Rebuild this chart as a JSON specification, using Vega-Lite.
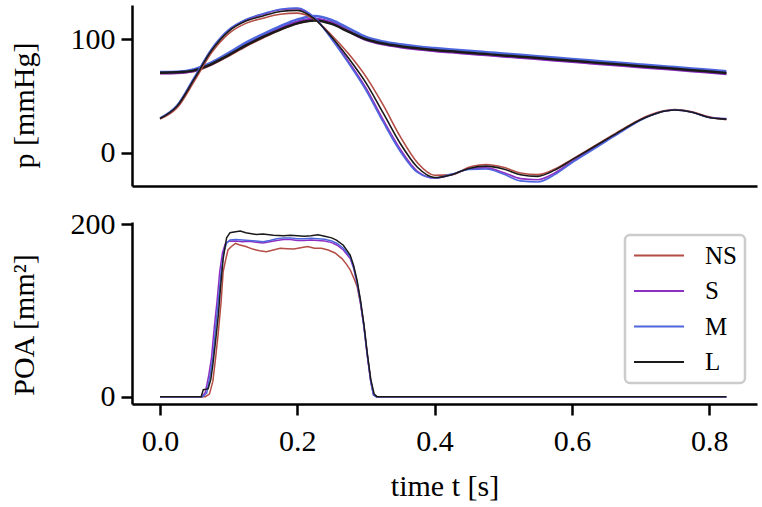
{
  "$schema": "https://vega.github.io/schema/vega-lite/v6.json",
  "background": "white",
  "autosize": {"type": "pad"},
  "padding": {"left": 8, "top": 5, "right": 5, "bottom": 5},
  "spacing": 36,
  "bounds": "flush",
  "datasets": {
    "pa": [
      {"t": 0, "NS": 70.2, "S": 70, "M": 71, "L": 70.5},
      {"t": 0.025, "NS": 70.5, "S": 70.3, "M": 71.3, "L": 70.8},
      {"t": 0.05, "NS": 72, "S": 72.2, "M": 73.5, "L": 72.5},
      {"t": 0.075, "NS": 77.5, "S": 78.2, "M": 79.5, "L": 78},
      {"t": 0.1, "NS": 85.5, "S": 86.8, "M": 88, "L": 86},
      {"t": 0.125, "NS": 94, "S": 95.5, "M": 97, "L": 94.5},
      {"t": 0.15, "NS": 101.5, "S": 103, "M": 104.5, "L": 102},
      {"t": 0.175, "NS": 108.5, "S": 110, "M": 111.5, "L": 108.5},
      {"t": 0.2, "NS": 114, "S": 115.5, "M": 117.5, "L": 114},
      {"t": 0.225, "NS": 117, "S": 118, "M": 120.5, "L": 116.5},
      {"t": 0.25, "NS": 115, "S": 114.5, "M": 117, "L": 113.5},
      {"t": 0.275, "NS": 108.5, "S": 107, "M": 109.5, "L": 106.5},
      {"t": 0.3, "NS": 101, "S": 99.5, "M": 102, "L": 100},
      {"t": 0.325, "NS": 96.2, "S": 95.5, "M": 98, "L": 96.2},
      {"t": 0.35, "NS": 93.5, "S": 93, "M": 95.5, "L": 93.8},
      {"t": 0.375, "NS": 91.6, "S": 91.1, "M": 93.6, "L": 92},
      {"t": 0.4, "NS": 90.1, "S": 89.6, "M": 92.2, "L": 90.5},
      {"t": 0.425, "NS": 88.9, "S": 88.4, "M": 91, "L": 89.3},
      {"t": 0.45, "NS": 87.7, "S": 87.2, "M": 89.8, "L": 88.1},
      {"t": 0.475, "NS": 86.5, "S": 86, "M": 88.6, "L": 86.9},
      {"t": 0.5, "NS": 85.3, "S": 84.8, "M": 87.4, "L": 85.7},
      {"t": 0.525, "NS": 84.2, "S": 83.7, "M": 86.2, "L": 84.6},
      {"t": 0.55, "NS": 83, "S": 82.5, "M": 85, "L": 83.4},
      {"t": 0.575, "NS": 81.8, "S": 81.3, "M": 83.8, "L": 82.2},
      {"t": 0.6, "NS": 80.6, "S": 80.1, "M": 82.6, "L": 81},
      {"t": 0.625, "NS": 79.4, "S": 78.9, "M": 81.4, "L": 79.8},
      {"t": 0.65, "NS": 78.2, "S": 77.7, "M": 80.2, "L": 78.6},
      {"t": 0.675, "NS": 77, "S": 76.5, "M": 79, "L": 77.4},
      {"t": 0.7, "NS": 75.8, "S": 75.3, "M": 77.8, "L": 76.2},
      {"t": 0.725, "NS": 74.7, "S": 74.2, "M": 76.6, "L": 75.1},
      {"t": 0.75, "NS": 73.5, "S": 73, "M": 75.4, "L": 73.9},
      {"t": 0.775, "NS": 72.3, "S": 71.8, "M": 74.2, "L": 72.7},
      {"t": 0.8, "NS": 71.1, "S": 70.6, "M": 73, "L": 71.5},
      {"t": 0.825, "NS": 70, "S": 69.4, "M": 71.8, "L": 70.3}
    ],
    "pv": [
      {"t": 0, "NS": 29.5, "S": 30.2, "M": 30.5, "L": 30},
      {"t": 0.025, "NS": 39.5, "S": 41.5, "M": 42, "L": 41},
      {"t": 0.05, "NS": 63, "S": 66, "M": 66.5, "L": 65},
      {"t": 0.075, "NS": 88, "S": 91, "M": 91.5, "L": 90},
      {"t": 0.1, "NS": 105, "S": 108, "M": 108.5, "L": 107},
      {"t": 0.125, "NS": 114, "S": 117, "M": 117.5, "L": 116},
      {"t": 0.15, "NS": 118.5, "S": 122, "M": 122.5, "L": 120.5},
      {"t": 0.175, "NS": 122, "S": 126, "M": 126.5, "L": 124.5},
      {"t": 0.2, "NS": 123, "S": 127, "M": 127.5, "L": 125.5},
      {"t": 0.225, "NS": 117.5, "S": 119, "M": 119, "L": 118},
      {"t": 0.25, "NS": 103.5, "S": 101, "M": 100, "L": 102},
      {"t": 0.275, "NS": 87, "S": 80, "M": 78.5, "L": 83},
      {"t": 0.3, "NS": 67, "S": 57, "M": 55, "L": 61.5},
      {"t": 0.325, "NS": 42, "S": 29, "M": 27, "L": 35},
      {"t": 0.35, "NS": 14, "S": 3, "M": 1, "L": 8},
      {"t": 0.375, "NS": -9, "S": -16.5, "M": -17.5, "L": -13},
      {"t": 0.4, "NS": -20, "S": -22.5, "M": -22.5, "L": -22},
      {"t": 0.425, "NS": -19.5, "S": -19.5, "M": -19, "L": -19.5},
      {"t": 0.45, "NS": -13, "S": -14.5, "M": -15, "L": -14},
      {"t": 0.475, "NS": -10.5, "S": -13.5, "M": -14.5, "L": -12},
      {"t": 0.5, "NS": -13, "S": -17.5, "M": -19, "L": -14.5},
      {"t": 0.525, "NS": -18, "S": -23, "M": -25, "L": -19.5},
      {"t": 0.55, "NS": -19.5, "S": -24, "M": -26, "L": -21},
      {"t": 0.575, "NS": -14.5, "S": -18, "M": -19.5, "L": -15.5},
      {"t": 0.6, "NS": -6, "S": -8, "M": -9, "L": -6.5},
      {"t": 0.625, "NS": 3, "S": 1.5, "M": 0.5, "L": 2.5},
      {"t": 0.65, "NS": 12, "S": 11, "M": 10, "L": 11.5},
      {"t": 0.675, "NS": 21, "S": 20, "M": 19.5, "L": 20.5},
      {"t": 0.7, "NS": 29.5, "S": 29, "M": 28.5, "L": 29},
      {"t": 0.725, "NS": 35.5, "S": 35, "M": 35, "L": 35},
      {"t": 0.75, "NS": 38, "S": 37.5, "M": 37.5, "L": 37.5},
      {"t": 0.775, "NS": 36, "S": 35.5, "M": 35.5, "L": 35.5},
      {"t": 0.8, "NS": 31.5, "S": 31, "M": 31, "L": 31},
      {"t": 0.825, "NS": 29, "S": 29.8, "M": 30, "L": 29.5}
    ],
    "poa": [
      {"g": "NS", "t": 0, "v": 0}, {"g": "NS", "t": 0.066, "v": 0}, {"g": "NS", "t": 0.072, "v": 3}, {"g": "NS", "t": 0.077, "v": 18},
      {"g": "NS", "t": 0.081, "v": 45}, {"g": "NS", "t": 0.085, "v": 75}, {"g": "NS", "t": 0.089, "v": 110}, {"g": "NS", "t": 0.092, "v": 145},
      {"g": "NS", "t": 0.096, "v": 160}, {"g": "NS", "t": 0.099, "v": 170}, {"g": "NS", "t": 0.104, "v": 174}, {"g": "NS", "t": 0.11, "v": 177.6},
      {"g": "NS", "t": 0.115, "v": 176}, {"g": "NS", "t": 0.125, "v": 174}, {"g": "NS", "t": 0.135, "v": 171}, {"g": "NS", "t": 0.145, "v": 169},
      {"g": "NS", "t": 0.155, "v": 168}, {"g": "NS", "t": 0.165, "v": 170}, {"g": "NS", "t": 0.175, "v": 172}, {"g": "NS", "t": 0.185, "v": 171.5},
      {"g": "NS", "t": 0.195, "v": 171}, {"g": "NS", "t": 0.205, "v": 172.5}, {"g": "NS", "t": 0.215, "v": 174}, {"g": "NS", "t": 0.225, "v": 172},
      {"g": "NS", "t": 0.235, "v": 172}, {"g": "NS", "t": 0.245, "v": 170}, {"g": "NS", "t": 0.255, "v": 166.5}, {"g": "NS", "t": 0.265, "v": 160},
      {"g": "NS", "t": 0.272, "v": 153}, {"g": "NS", "t": 0.277, "v": 147}, {"g": "NS", "t": 0.282, "v": 138}, {"g": "NS", "t": 0.287, "v": 128},
      {"g": "NS", "t": 0.292, "v": 108}, {"g": "NS", "t": 0.297, "v": 82}, {"g": "NS", "t": 0.302, "v": 48}, {"g": "NS", "t": 0.307, "v": 18},
      {"g": "NS", "t": 0.311, "v": 3}, {"g": "NS", "t": 0.315, "v": 0}, {"g": "NS", "t": 0.825, "v": 0},

      {"g": "S", "t": 0, "v": 0}, {"g": "S", "t": 0.061, "v": 0}, {"g": "S", "t": 0.066, "v": 5}, {"g": "S", "t": 0.071, "v": 25},
      {"g": "S", "t": 0.075, "v": 45}, {"g": "S", "t": 0.079, "v": 80}, {"g": "S", "t": 0.083, "v": 110}, {"g": "S", "t": 0.087, "v": 145},
      {"g": "S", "t": 0.091, "v": 167}, {"g": "S", "t": 0.095, "v": 177}, {"g": "S", "t": 0.1, "v": 180}, {"g": "S", "t": 0.11, "v": 180.5},
      {"g": "S", "t": 0.12, "v": 179.5}, {"g": "S", "t": 0.13, "v": 180}, {"g": "S", "t": 0.14, "v": 179}, {"g": "S", "t": 0.15, "v": 178},
      {"g": "S", "t": 0.16, "v": 179.5}, {"g": "S", "t": 0.17, "v": 181}, {"g": "S", "t": 0.18, "v": 182}, {"g": "S", "t": 0.19, "v": 182},
      {"g": "S", "t": 0.2, "v": 181}, {"g": "S", "t": 0.21, "v": 181}, {"g": "S", "t": 0.22, "v": 181.5}, {"g": "S", "t": 0.23, "v": 181},
      {"g": "S", "t": 0.24, "v": 180.5}, {"g": "S", "t": 0.25, "v": 178.5}, {"g": "S", "t": 0.258, "v": 175.5}, {"g": "S", "t": 0.267, "v": 170},
      {"g": "S", "t": 0.277, "v": 160}, {"g": "S", "t": 0.282, "v": 149}, {"g": "S", "t": 0.287, "v": 132}, {"g": "S", "t": 0.292, "v": 109},
      {"g": "S", "t": 0.297, "v": 81}, {"g": "S", "t": 0.302, "v": 47}, {"g": "S", "t": 0.307, "v": 17}, {"g": "S", "t": 0.311, "v": 2},
      {"g": "S", "t": 0.315, "v": 0}, {"g": "S", "t": 0.825, "v": 0},

      {"g": "M", "t": 0, "v": 0}, {"g": "M", "t": 0.062, "v": 0}, {"g": "M", "t": 0.068, "v": 4}, {"g": "M", "t": 0.073, "v": 25},
      {"g": "M", "t": 0.077, "v": 45}, {"g": "M", "t": 0.081, "v": 80}, {"g": "M", "t": 0.085, "v": 112}, {"g": "M", "t": 0.089, "v": 145},
      {"g": "M", "t": 0.093, "v": 168}, {"g": "M", "t": 0.097, "v": 178}, {"g": "M", "t": 0.102, "v": 181.5}, {"g": "M", "t": 0.11, "v": 182},
      {"g": "M", "t": 0.12, "v": 181.5}, {"g": "M", "t": 0.13, "v": 181}, {"g": "M", "t": 0.14, "v": 180.5}, {"g": "M", "t": 0.15, "v": 179.5},
      {"g": "M", "t": 0.16, "v": 181}, {"g": "M", "t": 0.17, "v": 183}, {"g": "M", "t": 0.18, "v": 184}, {"g": "M", "t": 0.19, "v": 184},
      {"g": "M", "t": 0.2, "v": 183}, {"g": "M", "t": 0.21, "v": 183}, {"g": "M", "t": 0.22, "v": 183.5}, {"g": "M", "t": 0.23, "v": 183},
      {"g": "M", "t": 0.24, "v": 182.5}, {"g": "M", "t": 0.25, "v": 180.5}, {"g": "M", "t": 0.258, "v": 177.5}, {"g": "M", "t": 0.267, "v": 172},
      {"g": "M", "t": 0.277, "v": 162}, {"g": "M", "t": 0.282, "v": 150}, {"g": "M", "t": 0.287, "v": 133}, {"g": "M", "t": 0.292, "v": 110},
      {"g": "M", "t": 0.297, "v": 82}, {"g": "M", "t": 0.302, "v": 48}, {"g": "M", "t": 0.307, "v": 18}, {"g": "M", "t": 0.311, "v": 2},
      {"g": "M", "t": 0.315, "v": 0}, {"g": "M", "t": 0.825, "v": 0},

      {"g": "L", "t": 0, "v": 0}, {"g": "L", "t": 0.06, "v": 0}, {"g": "L", "t": 0.063, "v": 8}, {"g": "L", "t": 0.07, "v": 9},
      {"g": "L", "t": 0.074, "v": 20}, {"g": "L", "t": 0.077, "v": 37}, {"g": "L", "t": 0.081, "v": 65}, {"g": "L", "t": 0.085, "v": 95},
      {"g": "L", "t": 0.088, "v": 125}, {"g": "L", "t": 0.092, "v": 160}, {"g": "L", "t": 0.097, "v": 184}, {"g": "L", "t": 0.102, "v": 190},
      {"g": "L", "t": 0.11, "v": 191}, {"g": "L", "t": 0.117, "v": 192}, {"g": "L", "t": 0.125, "v": 190}, {"g": "L", "t": 0.14, "v": 188},
      {"g": "L", "t": 0.15, "v": 188.5}, {"g": "L", "t": 0.165, "v": 187}, {"g": "L", "t": 0.18, "v": 186.5}, {"g": "L", "t": 0.19, "v": 187},
      {"g": "L", "t": 0.2, "v": 186.5}, {"g": "L", "t": 0.21, "v": 186}, {"g": "L", "t": 0.22, "v": 186.5}, {"g": "L", "t": 0.23, "v": 187.5},
      {"g": "L", "t": 0.24, "v": 186}, {"g": "L", "t": 0.25, "v": 184}, {"g": "L", "t": 0.257, "v": 181.5}, {"g": "L", "t": 0.267, "v": 175.5},
      {"g": "L", "t": 0.277, "v": 164}, {"g": "L", "t": 0.282, "v": 152}, {"g": "L", "t": 0.287, "v": 135}, {"g": "L", "t": 0.292, "v": 112},
      {"g": "L", "t": 0.297, "v": 84}, {"g": "L", "t": 0.302, "v": 50}, {"g": "L", "t": 0.307, "v": 20}, {"g": "L", "t": 0.312, "v": 3},
      {"g": "L", "t": 0.316, "v": 0}, {"g": "L", "t": 0.825, "v": 0}
    ]
  },
  "vconcat": [
    {
      "width": 625,
      "height": 181,
      "layer": [
        {
          "data": {"name": "pa"},
          "transform": [{"fold": ["NS", "S", "M", "L"], "as": ["g", "v"]}],
          "mark": {"type": "line", "strokeWidth": 2.5, "interpolate": "monotone", "clip": true},
          "encoding": {
            "x": {"field": "t", "type": "quantitative", "scale": {"domain": [-0.0408, 0.8696], "nice": false, "zero": false},
                  "axis": {"labels": false, "ticks": false, "title": null, "domain": true}},
            "y": {"field": "v", "type": "quantitative", "scale": {"domain": [-29.5, 130.2], "nice": false, "zero": false},
                  "axis": {"values": [0, 100], "title": "p [mmHg]", "titleX": -93, "titleY": 100}},
            "color": {"field": "g", "type": "nominal",
                      "scale": {"domain": ["NS", "S", "M", "L"], "range": ["#b34d45", "#8e2fc4", "#4d66dd", "#1a1a1a"]},
                      "legend": {"orient": "none", "legendX": 493, "legendY": 230, "title": null, "symbolType": "stroke", "symbolSize": 2500, "symbolStrokeWidth": 2, "labelFontSize": 25, "labelOffset": 20, "clipHeight": 25, "strokeColor": "#cccccc", "cornerRadius": 5, "padding": 8, "rowPadding": 9.5, "fillColor": "#ffffff",
                                 "encode": {"legend": {"update": {"strokeWidth": {"value": 2.5}}}}}}
          }
        },
        {
          "data": {"name": "pv"},
          "transform": [{"fold": ["NS", "S", "M", "L"], "as": ["g", "v"]}],
          "mark": {"type": "line", "strokeWidth": 1.6, "interpolate": "monotone", "clip": true},
          "encoding": {
            "x": {"field": "t", "type": "quantitative"},
            "y": {"field": "v", "type": "quantitative"},
            "color": {"field": "g", "type": "nominal"}
          }
        }
      ]
    },
    {
      "width": 625,
      "height": 182,
      "data": {"name": "poa"},
      "mark": {"type": "line", "strokeWidth": 1.5, "clip": true},
      "encoding": {
        "x": {"field": "t", "type": "quantitative", "scale": {"domain": [-0.0408, 0.8696], "nice": false, "zero": false},
              "axis": {"values": [0, 0.2, 0.4, 0.6, 0.8], "format": ".1f", "title": "time t [s]", "labelBaseline": "alphabetic", "labelPadding": 35, "titleBaseline": "alphabetic", "titleY": 91}},
        "y": {"field": "v", "type": "quantitative", "scale": {"domain": [-8.5, 202.4], "nice": false, "zero": false},
              "axis": {"values": [0, 200], "title": "POA [mm²]", "titleX": -93, "titleY": 102.5}},
        "color": {"field": "g", "type": "nominal", "sort": ["NS", "S", "M", "L"]}
      }
    }
  ],
  "config": {
    "font": "Liberation Serif",
    "view": {"stroke": null},
    "axis": {
      "grid": false,
      "domainColor": "#000000",
      "domainWidth": 2.5,
      "tickColor": "#000000",
      "tickWidth": 2.5,
      "tickSize": 11,
      "labelFont": "Liberation Serif",
      "titleFont": "Liberation Serif",
      "labelFontSize": 30,
      "titleFontSize": 30,
      "labelColor": "#000000",
      "titleColor": "#000000",
      "titleFontWeight": "normal",
      "labelPadding": 6,
      "labelFlush": false,
      "labelOverlap": false,
      "labelBound": false
    },
    "legend": {"labelFont": "Liberation Serif", "labelColor": "#000000"}
  }
}
